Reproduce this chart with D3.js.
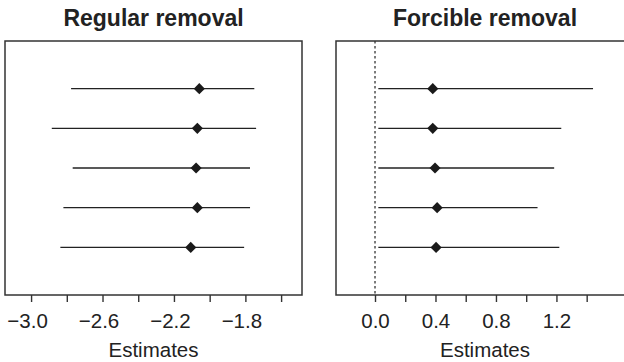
<!DOCTYPE html>
<html>
<head>
  <meta charset="utf-8">
  <title>Regular vs forcible removal estimates</title>
  <script src="https://d3js.org/d3.v7.min.js"></script>
  <style>
    body { margin: 0; background: #fff; }
    text { font-family: "Liberation Sans", Arial, sans-serif; fill: #222; }
    .title { font-weight: bold; font-size: 23px; }
    .axis text { font-size: 20.5px; fill: #222; }
    .axis line { stroke: #333; stroke-width: 1.4px; }
    .axis-title { font-size: 20.5px; }
    .frame { fill: none; stroke: #333; stroke-width: 1.5px; }
    .ci { stroke: #222; stroke-width: 1.3px; }
    .est { fill: #1a1a1a; }
  </style>
</head>
<body>
  <svg width="624" height="362"></svg>
  <script>
    // rows (top to bottom)
    const models = ["M1", "M2", "M3", "M4", "M5"];

    // Regular removal
    const regularEst = [-2.058, -2.069, -2.076, -2.069, -2.106];
    const regularLo  = [-2.776, -2.884, -2.767, -2.819, -2.836];
    const regularHi  = [-1.750, -1.740, -1.774, -1.774, -1.807];
    const regularTicks  = [-3.0, -2.8, -2.6, -2.4, -2.2, -2.0, -1.8, -1.6];
    const regularLabels = [-3.0, -2.6, -2.2, -1.8];

    // Forcible removal
    const forcibleEst = [0.382, 0.382, 0.397, 0.411, 0.404];
    const forcibleLo  = [0.022, 0.022, 0.022, 0.022, 0.022];
    const forcibleHi  = [1.442, 1.232, 1.185, 1.075, 1.219];
    const forcibleTicks  = [0.0, 0.2, 0.4, 0.6, 0.8, 1.0, 1.2, 1.4];
    const forcibleLabels = [0.0, 0.4, 0.8, 1.2];

    const svg = d3.select("svg");
    const plotTop = 41, plotBottom = 295;

    const y = d3.scalePoint()
      .domain(models)
      .range([plotTop, plotBottom])
      .padding(1.2);

    const fmt = d3.format(".1f");

    function panel(opts) {
      const x = d3.scaleLinear()
        .domain(opts.domain)
        .range([opts.x0, opts.x1]);

      const rows = models.map((m, i) => ({
        m: m, est: opts.est[i], lo: opts.lo[i], hi: opts.hi[i]
      }));

      const g = svg.append("g");

      // reference line at zero
      if (opts.zeroLine) {
        g.append("line")
          .attr("x1", x(0)).attr("x2", x(0))
          .attr("y1", plotTop).attr("y2", plotBottom)
          .attr("stroke", "#444")
          .attr("stroke-width", 1.4)
          .attr("stroke-dasharray", "2.5,2.5");
      }

      g.append("rect")
        .attr("class", "frame")
        .attr("x", opts.x0).attr("y", plotTop)
        .attr("width", opts.x1 - opts.x0)
        .attr("height", plotBottom - plotTop);

      g.selectAll(".ci")
        .data(rows)
        .join("line")
        .attr("class", "ci")
        .attr("x1", d => x(d.lo))
        .attr("x2", d => x(d.hi))
        .attr("y1", d => y(d.m))
        .attr("y2", d => y(d.m));

      g.selectAll(".est")
        .data(rows)
        .join("path")
        .attr("class", "est")
        .attr("d", d3.symbol(d3.symbolSquare, 62))
        .attr("transform", d => `translate(${x(d.est)},${y(d.m)}) rotate(45)`);

      const axis = d3.axisBottom(x)
        .tickValues(opts.ticks)
        .tickSize(7)
        .tickSizeOuter(0)
        .tickPadding(11)
        .tickFormat(v => opts.labels.some(l => Math.abs(l - v) < 1e-9) ? fmt(v) : "");

      const ax = g.append("g")
        .attr("class", "axis")
        .attr("transform", `translate(0,${plotBottom})`)
        .call(axis);
      ax.select(".domain").remove();
      ax.selectAll("text").attr("dx", d => d < 0 ? -4 : 0);

      const cx = (opts.x0 + opts.x1) / 2;
      g.append("text")
        .attr("class", "title")
        .attr("x", cx).attr("y", 26)
        .attr("text-anchor", "middle")
        .text(opts.title);

      g.append("text")
        .attr("class", "axis-title")
        .attr("x", cx).attr("y", 357)
        .attr("text-anchor", "middle")
        .text("Estimates");
    }

    panel({
      title: "Regular removal",
      x0: 5, x1: 302,
      domain: [-3.146, -1.483],
      est: regularEst, lo: regularLo, hi: regularHi,
      ticks: regularTicks, labels: regularLabels,
      zeroLine: false
    });

    panel({
      title: "Forcible removal",
      x0: 336, x1: 634,
      domain: [-0.258, 1.713],
      est: forcibleEst, lo: forcibleLo, hi: forcibleHi,
      ticks: forcibleTicks, labels: forcibleLabels,
      zeroLine: true
    });
  </script>
</body>
</html>
